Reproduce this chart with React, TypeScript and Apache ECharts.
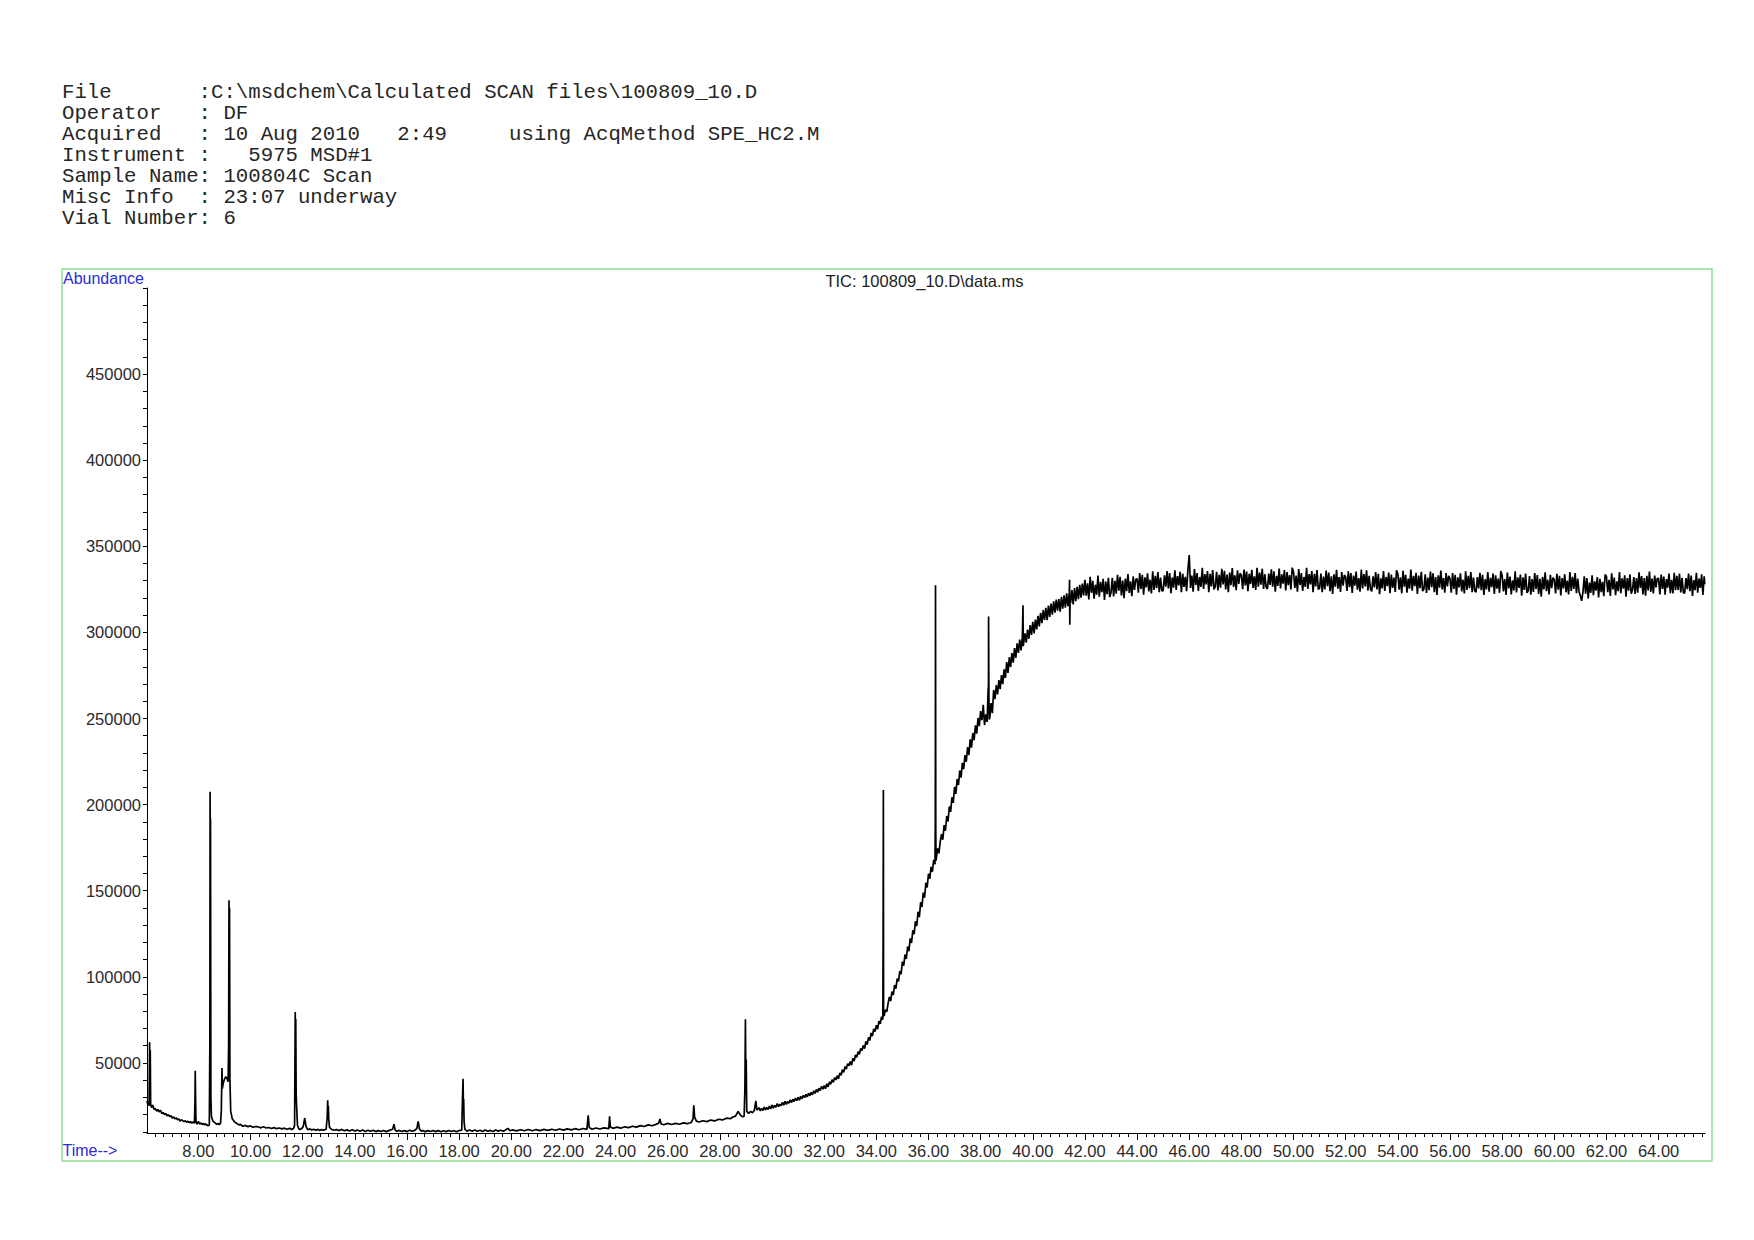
import React, { useEffect, useRef } from "react";
import * as echarts from "echarts";

// ---------- header text (column-aligned, monospaced) ----------
const headerRows: { col: number; text: string }[][] = [
  [{ col: 0, text: "File" }, { col: 11, text: ":C:\\msdchem\\Calculated SCAN files\\100809_10.D" }],
  [{ col: 0, text: "Operator" }, { col: 11, text: ": DF" }],
  [
    { col: 0, text: "Acquired" },
    { col: 11, text: ": 10 Aug 2010" },
    { col: 27, text: "2:49" },
    { col: 36, text: "using AcqMethod SPE_HC2.M" },
  ],
  [{ col: 0, text: "Instrument :" }, { col: 15, text: "5975 MSD#1" }],
  [{ col: 0, text: "Sample Name: 100804C Scan" }],
  [{ col: 0, text: "Misc Info" }, { col: 11, text: ": 23:07 underway" }],
  [{ col: 0, text: "Vial Number: 6" }],
];

const chartTitle = "TIC: 100809_10.D\\data.ms";
const yAxisName = "Abundance";
const xAxisName = "Time-->";

// ---------- axes ----------
const timeMin = 6.03;
const timeMax = 65.78;
const abundanceMin = 9300;
const abundanceMax = 500000;
const xLabelValues = [8, 10, 12, 14, 16, 18, 20, 22, 24, 26, 28, 30, 32, 34, 36, 38, 40, 42, 44, 46, 48, 50, 52, 54, 56, 58, 60, 62, 64];
const yLabelValues = [50000, 100000, 150000, 200000, 250000, 300000, 350000, 400000, 450000];

// ---------- TIC data ----------
// early part (time in min, abundance), read point by point
const earlySegment: [number, number][] = [
  [6.03, 28000], [6.06, 26000], [6.09, 27500], [6.11, 25000], [6.13, 62000], [6.145, 40000], [6.155, 57500],
  [6.17, 26000], [6.2, 24000], [6.25, 25500], [6.3, 23000], [6.35, 23500], [6.4, 22000], [6.45, 23000],
  [6.5, 21500], [6.55, 22500], [6.6, 20500], [6.65, 21300], [6.7, 20000], [6.75, 20600], [6.8, 19200],
  [6.85, 19900], [6.9, 18800], [6.95, 19300], [7.0, 18000], [7.05, 18600], [7.1, 17500], [7.15, 18100],
  [7.2, 17000], [7.25, 17400], [7.3, 16200], [7.35, 17000], [7.4, 16500], [7.45, 15900], [7.5, 16400],
  [7.55, 15500], [7.6, 16100], [7.65, 15300], [7.7, 15900], [7.75, 15000], [7.8, 15700], [7.85, 15000],
  [7.87, 28000], [7.88, 45500], [7.895, 27000], [7.91, 15500], [7.95, 14500], [8.0, 16000], [8.05, 14500],
  [8.1, 15100], [8.15, 14200], [8.2, 14900], [8.25, 14000], [8.3, 14600], [8.35, 13500], [8.42, 13800],
  [8.44, 60000], [8.45, 207500], [8.46, 150000], [8.465, 192000], [8.48, 30000], [8.5, 19000], [8.55, 16500],
  [8.6, 15600], [8.65, 15000], [8.7, 14300], [8.75, 14800], [8.8, 14200], [8.85, 15000], [8.88, 22000],
  [8.905, 47000], [8.92, 35000], [8.95, 38000], [9.0, 40500], [9.05, 42000], [9.1, 41000], [9.14, 39000],
  [9.16, 60000], [9.175, 144500], [9.185, 120000], [9.195, 140000], [9.21, 40000], [9.24, 22000], [9.3, 17500],
  [9.35, 16600], [9.4, 15500], [9.47, 14900], [9.55, 14000], [9.62, 14300], [9.7, 13200], [9.8, 13700],
  [9.9, 13000], [10.0, 13400], [10.1, 12600], [10.2, 13100], [10.3, 12800], [10.4, 12300], [10.5, 12900],
  [10.6, 12200], [10.7, 12500], [10.8, 11900], [10.9, 12400], [11.0, 11800], [11.1, 12200], [11.2, 11700],
  [11.3, 12100], [11.4, 11500], [11.5, 12000], [11.58, 11400], [11.65, 11900], [11.69, 14000], [11.7, 40000],
  [11.715, 79500], [11.725, 60000], [11.735, 75500], [11.75, 32000], [11.77, 24000], [11.8, 14000], [11.85, 11800],
  [11.9, 11300], [11.95, 11700], [12.02, 13000], [12.08, 18000], [12.13, 13000], [12.2, 11200], [12.28, 11700],
  [12.35, 11000], [12.42, 11500], [12.5, 10900], [12.58, 11400], [12.65, 10800], [12.72, 11300], [12.8, 11000],
  [12.9, 11500], [12.94, 18000], [12.96, 28300], [12.975, 21000], [12.985, 25000], [13.0, 17500], [13.03, 12500],
  [13.1, 11500], [13.2, 10900], [13.3, 11300], [13.4, 10700], [13.5, 11400], [13.6, 10600], [13.7, 11100],
  [13.8, 10500], [13.9, 11200], [14.0, 10400], [14.1, 11000], [14.2, 10300], [14.3, 11000], [14.4, 10200],
  [14.5, 10900], [14.6, 10300], [14.7, 10900], [14.8, 10100], [14.9, 10700], [15.0, 10200], [15.1, 10800],
  [15.2, 10100], [15.3, 10700], [15.45, 11500], [15.5, 14400], [15.55, 11000], [15.6, 10300], [15.7, 10800],
  [15.8, 10200], [15.9, 10700], [16.0, 10100], [16.1, 10900], [16.2, 10300], [16.3, 10800], [16.38, 12000],
  [16.43, 16000], [16.48, 11500], [16.55, 10300], [16.6, 10800], [16.7, 10100], [16.8, 10700], [16.9, 10200],
  [17.0, 10800], [17.1, 10100], [17.2, 10700], [17.3, 10000], [17.4, 10600], [17.5, 10100], [17.6, 10800],
  [17.7, 10200], [17.8, 10600], [17.9, 10000], [18.0, 10700], [18.1, 11000], [18.13, 29000], [18.15, 40800],
  [18.165, 25000], [18.175, 29000], [18.19, 16000], [18.22, 11500], [18.3, 10400], [18.4, 11000], [18.5, 10300],
  [18.6, 11000], [18.7, 10300], [18.8, 10900], [18.9, 10200], [19.0, 11000], [19.1, 10300], [19.2, 10800],
  [19.3, 10200], [19.4, 11000], [19.5, 10400], [19.6, 10900], [19.7, 10300], [19.87, 12000], [19.95, 10600],
  [20.05, 11100], [20.2, 10500], [20.35, 11200], [20.5, 10600], [20.65, 11300], [20.8, 10600], [20.95, 11300],
  [21.1, 10700], [21.25, 11400], [21.4, 10800], [21.55, 11500], [21.7, 10900], [21.85, 11600], [22.0, 11000],
  [22.15, 11700], [22.3, 11100], [22.45, 11800], [22.6, 11200], [22.75, 11900], [22.9, 11400], [22.95, 19500],
  [22.99, 12500], [23.1, 11500], [23.25, 12200], [23.4, 11600], [23.55, 12300], [23.74, 11800], [23.77, 19000],
  [23.8, 12800], [23.9, 12000], [24.05, 12700], [24.2, 12100], [24.35, 12900], [24.5, 12400], [24.65, 13200],
  [24.8, 12700], [24.95, 13600], [25.1, 13100], [25.25, 14000], [25.4, 13500], [25.55, 14300], [25.65, 15000],
  [25.7, 17400], [25.75, 14500], [25.85, 14100], [26.0, 14900], [26.15, 14200], [26.3, 14900], [26.45, 14400],
  [26.6, 15200], [26.75, 14700], [26.9, 15400], [26.97, 17500], [27.0, 25400], [27.03, 18500], [27.1, 16200],
  [27.2, 15700], [27.35, 16400], [27.5, 15900], [27.65, 16800], [27.8, 16300], [27.95, 17300], [28.1, 16900],
  [28.25, 17900], [28.4, 17600], [28.5, 18600], [28.6, 19100], [28.65, 20500], [28.7, 21800], [28.8, 19500],
  [28.87, 18700], [28.93, 19000], [28.96, 35000], [28.98, 75300], [28.995, 40000], [29.01, 52000], [29.03, 22000],
  [29.1, 20600], [29.18, 21900], [29.25, 21000], [29.32, 22400], [29.38, 28000], [29.42, 22500],
];

// middle part sampled every 0.05 min from 29.50 min
const riseStart = 29.5;
const riseStep = 0.05;
const riseValues = [
  24000, 22100, 23600, 22400, 24300, 22800, 24100, 23000, 24900, 23300,
  25600, 23700, 25300, 24200, 26400, 24600, 26000, 25100, 27100, 25500,
  27700, 25900, 27500, 26600, 28600, 27000, 28900, 27600, 29600, 28100,
  30100, 28400, 30600, 29200, 31200, 29800, 31700, 30300, 32400, 30900,
  32900, 31500, 33800, 32300, 34600, 33000, 35300, 34000, 36400, 34700,
  36800, 35000, 37900, 36100, 39000, 37600, 40300, 38700, 41500, 40100,
  42600, 40700, 44200, 42800, 46100, 44500, 47900, 46400, 49600, 48300,
  50800, 48700, 52700, 51000, 54600, 53200, 56500, 55000, 58400, 57100,
  60200, 58300, 62500, 60600, 64800, 63000, 67400, 65500, 69800, 68200,
  71900, 69600, 74300, 72700, 76800, 75200, 77200, 80900, 79600, 84400,
  88300, 85900, 91400, 89500, 95200, 93100, 99000, 97400, 103300, 101600,
  108800, 106500, 112900, 110400, 117600, 114900, 122300, 119700, 127000, 124800,
  132200, 129500, 137800, 134700, 143300, 140600, 148900, 146000, 154600, 151900,
  159800, 156900, 163800, 161000, 167900, 165300, 168500, 174600, 171700, 178400,
  182900, 179600, 188100, 184800, 193400, 190200, 198900, 195800, 204300, 201000,
  210300, 206200, 214900, 211400, 219800, 215700, 224200, 220600, 228700, 224900,
  233400, 228800, 237900, 233100, 241600, 237400, 246000, 241200, 250300, 245600,
  254300, 249000, 257900, 246200, 252400, 248000, 255600, 250300, 258900, 253100,
  266500, 261200, 269400, 264000, 272300, 267100, 275200, 270000, 278500, 273600,
  282800, 276500, 285600, 279900, 288000, 282400, 290900, 285200, 293700, 288100,
  295800, 289600, 297500, 291900, 299400, 294000, 301600, 296300, 304200, 298500,
  306100, 299400, 307500, 301800, 309600, 303500, 311300, 305400, 313000, 307200,
  314200, 307100, 315600, 309000, 316800, 310300, 318100, 311500, 319000, 312600,
  319400, 312000, 320600, 313800, 321500, 314400, 322700, 315300, 323100, 317000,
  324600, 316200, 325700, 318100, 326400, 319300, 327600, 320200, 328300, 321500,
];

// plateau sampled every 0.05 min from 42.00 min
const plateauStart = 42.0;
const plateauStep = 0.05;
const plateauValues = [
  330600, 321300, 328500, 319200, 332300, 323000, 329900, 319600, 327700, 321900, 333000, 320700, 329400, 323400, 331100, 318800, 329500, 322200, 331700, 320500,
  323200, 331700, 320900, 329900, 322500, 333400, 324300, 332300, 321400, 330100, 319800, 331200, 324000, 333900, 322900, 329600, 321000, 332500, 324700, 330800,
  331200, 323100, 334500, 325300, 333400, 321900, 332000, 326100, 334300, 323800, 330600, 322600, 335500, 324600, 332800, 325700, 335000, 323300, 331800, 324100,
  324300, 333100, 326600, 335600, 325500, 334500, 322700, 331900, 326000, 336100, 324600, 332700, 327300, 335200, 323300, 334100, 326400, 332300, 324000, 336600,
  344900, 325800, 333000, 323700, 336800, 327500, 334400, 324100, 332200, 326400, 337500, 325200, 333900, 327900, 335600, 323300, 334000, 326700, 336200, 325000,
  326700, 335200, 324400, 333400, 326000, 336900, 327800, 335800, 324900, 333600, 323300, 334700, 327500, 337400, 326400, 333100, 324500, 336000, 328200, 334300,
  333200, 325100, 336500, 327300, 335400, 323900, 334000, 328100, 336300, 325800, 332600, 324600, 337500, 326600, 334800, 327700, 337000, 325300, 333800, 326100,
  325300, 334100, 327600, 336600, 326500, 335500, 323700, 332900, 327000, 337100, 325600, 333700, 328300, 336200, 324300, 335100, 327400, 333300, 325000, 337600,
  335100, 325800, 333000, 323700, 336800, 327500, 334400, 324100, 332200, 326400, 337500, 325200, 333900, 327900, 335600, 323300, 334000, 326700, 336200, 325000,
  325700, 334200, 323400, 332400, 325000, 335900, 326800, 334800, 323900, 332600, 322300, 333700, 326500, 336400, 325400, 332100, 323500, 335000, 327200, 333300,
  332200, 324100, 335500, 326300, 334400, 322900, 333000, 327100, 335300, 324800, 331600, 323600, 336500, 325600, 333800, 326700, 336000, 324300, 332800, 325100,
  323800, 332600, 326100, 335100, 325000, 334000, 322200, 331400, 325500, 335600, 324100, 332200, 326800, 334700, 322800, 333600, 325900, 331800, 323500, 336100,
  334100, 324800, 332000, 322700, 335800, 326500, 333400, 323100, 331200, 325400, 336500, 324200, 332900, 326900, 334600, 322300, 333000, 325700, 335200, 324000,
  325200, 333700, 322900, 331900, 324500, 335400, 326300, 334300, 323400, 332100, 321800, 333200, 326000, 335900, 324900, 331600, 323000, 334500, 326700, 332800,
  331200, 323100, 334500, 325300, 333400, 321900, 332000, 326100, 334300, 323800, 330600, 322600, 335500, 324600, 332800, 325700, 335000, 323300, 331800, 324100,
  323300, 332100, 325600, 334600, 324500, 333500, 321700, 330900, 325000, 335100, 323600, 331700, 326300, 334200, 322300, 333100, 325400, 331300, 323000, 335600,
  333100, 323800, 331000, 321700, 334800, 325500, 332400, 322100, 330200, 324400, 335500, 323200, 331900, 325900, 333600, 321300, 332000, 324700, 334200, 323000,
  324200, 332700, 321900, 330900, 323500, 334400, 325300, 333300, 322400, 331100, 320800, 332200, 325000, 334900, 323900, 330600, 322000, 333500, 325700, 331800,
  330700, 322600, 334000, 324800, 332900, 321400, 331500, 325600, 333800, 323300, 330100, 322100, 335000, 324100, 332300, 325200, 334500, 322800, 331300, 323600,
  321300, 318300, 323600, 332600, 322500, 331500, 319700, 328900, 323000, 333100, 321600, 329700, 324300, 332200, 320300, 331100, 323400, 329300, 321000, 333600,
  332600, 323300, 330500, 321200, 334300, 325000, 331900, 321600, 329700, 323900, 335000, 322700, 331400, 325400, 333100, 320800, 331500, 324200, 333700, 322500,
  324600, 332100, 322300, 331500, 323100, 334900, 325800, 332700, 322000, 331600, 321300, 332900, 324400, 335300, 323500, 331200, 322600, 333000, 326100, 331400,
  331200, 322100, 333600, 325300, 332400, 321900, 331000, 326000, 334200, 322800, 330500, 322600, 334600, 324500, 332800, 324700, 334100, 323200, 331700, 323100,
  322800, 331600, 325100, 334100, 324000, 333000, 321200, 330400, 324500, 334600, 323100, 331200, 325800, 333700, 321800, 332600,
];
const plateauEnd: [number, number] = [65.77, 328000];

// sharp peaks sitting on the rising baseline (time, abundance)
const peakPoints: [number, number][] = [
  [34.262, 133000], [34.27, 208500], [34.278, 79000],
  [36.262, 190000], [36.27, 327400], [36.28, 185000], [36.29, 167500],
  [38.29, 268000], [38.305, 309200], [38.318, 262000], [38.33, 249500],
  [39.625, 315700], [39.635, 292000],
  [41.41, 330600], [41.42, 304500], [41.43, 318000],
];

// ---------- layout ----------
const W = 1754;
const H = 1240;
const GRID = { left: 147, top: 288, width: 1558, height: 845 };
const FRAME = { x: 62, y: 269, w: 1650, h: 892 };
const HEADER = { x: 62, y0: 92.8, dy: 20.9, charW: 12.42, fontSize: 20.7 };

export default function App() {
  const ref = useRef<HTMLDivElement>(null);

  useEffect(() => {
    if (!ref.current) return;
    const chart = echarts.init(ref.current, null, { renderer: "svg", width: W, height: H });

    const sampled = (start: number, step: number, vals: number[]): [number, number][] =>
      vals.map((v, i) => [Math.round((start + i * step) * 1000) / 1000, v]);

    const tic: [number, number][] = [
      ...earlySegment,
      ...sampled(riseStart, riseStep, riseValues),
      ...peakPoints,
      ...sampled(plateauStart, plateauStep, plateauValues),
      plateauEnd,
    ].sort((a, b) => a[0] - b[0]);

    const xMinorTicks: number[] = [];
    for (let k = Math.ceil(timeMin * 3); k <= Math.floor(timeMax * 3); k++) {
      if (k % 6 !== 0) xMinorTicks.push(k / 3);
    }
    const yTicks: number[] = [];
    for (let v = 10000; v <= abundanceMax; v += 10000) yTicks.push(v);

    const headerGraphics: any[] = [];
    headerRows.forEach((row, r) => {
      row.forEach((piece) => {
        headerGraphics.push({
          type: "text",
          x: HEADER.x + piece.col * HEADER.charW,
          y: HEADER.y0 + r * HEADER.dy,
          silent: true,
          style: {
            text: piece.text,
            fill: "#262626",
            font: `${HEADER.fontSize}px "Liberation Mono", "Courier New", monospace`,
            textAlign: "left",
            textVerticalAlign: "middle",
          },
        });
      });
    });

    const sans = '"Liberation Sans", Arial, sans-serif';

    chart.setOption({
      animation: false,
      backgroundColor: "#ffffff",
      grid: { ...GRID, containLabel: false },
      xAxis: [
        {
          type: "value",
          min: timeMin,
          max: timeMax,
          position: "bottom",
          axisLine: { show: true, lineStyle: { color: "#000", width: 1 } },
          axisTick: { show: true, length: 7, customValues: xLabelValues, lineStyle: { color: "#000", width: 1 } },
          axisLabel: {
            show: true,
            customValues: xLabelValues,
            formatter: (v: number) => v.toFixed(2),
            fontFamily: sans,
            fontSize: 16.5,
            color: "#2a2a2a",
            margin: 9,
          },
          splitLine: { show: false },
        },
        {
          type: "value",
          min: timeMin,
          max: timeMax,
          position: "bottom",
          axisLine: { show: false },
          axisTick: { show: true, length: 4, customValues: xMinorTicks, lineStyle: { color: "#000", width: 1 } },
          axisLabel: { show: false },
          splitLine: { show: false },
        },
      ],
      yAxis: {
        type: "value",
        min: abundanceMin,
        max: abundanceMax,
        axisLine: { show: true, lineStyle: { color: "#000", width: 1 } },
        axisTick: { show: true, length: 4, customValues: yTicks, lineStyle: { color: "#000", width: 1 } },
        axisLabel: {
          show: true,
          customValues: yLabelValues,
          formatter: (v: number) => String(v),
          fontFamily: sans,
          fontSize: 16.5,
          color: "#2a2a2a",
          margin: 6,
        },
        splitLine: { show: false },
      },
      series: [
        {
          type: "line",
          data: tic,
          xAxisIndex: 0,
          showSymbol: false,
          symbol: "none",
          clip: true,
          lineStyle: { color: "#000000", width: 1.7 },
          emphasis: { disabled: true },
        },
      ],
      graphic: [
        {
          type: "rect",
          silent: true,
          shape: { x: FRAME.x, y: FRAME.y, width: FRAME.w, height: FRAME.h },
          style: { fill: "none", stroke: "#93de93", lineWidth: 1.5 },
        },
        {
          type: "text",
          x: 63,
          y: 278.5,
          silent: true,
          style: { text: yAxisName, fill: "#2c2cd8", font: `16px ${sans}`, textAlign: "left", textVerticalAlign: "middle" },
        },
        {
          type: "text",
          x: 62.5,
          y: 1150,
          silent: true,
          style: { text: xAxisName, fill: "#2c2cd8", font: `16px ${sans}`, textAlign: "left", textVerticalAlign: "middle" },
        },
        {
          type: "text",
          x: 924.5,
          y: 280.5,
          silent: true,
          style: { text: chartTitle, fill: "#222", font: `16.5px ${sans}`, textAlign: "center", textVerticalAlign: "middle" },
        },
        ...headerGraphics,
      ],
    });

    return () => chart.dispose();
  }, []);

  return (
    <div
      ref={ref}
      style={{ position: "fixed", left: 0, top: 0, width: W, height: H, background: "#fff" }}
    />
  );
}
